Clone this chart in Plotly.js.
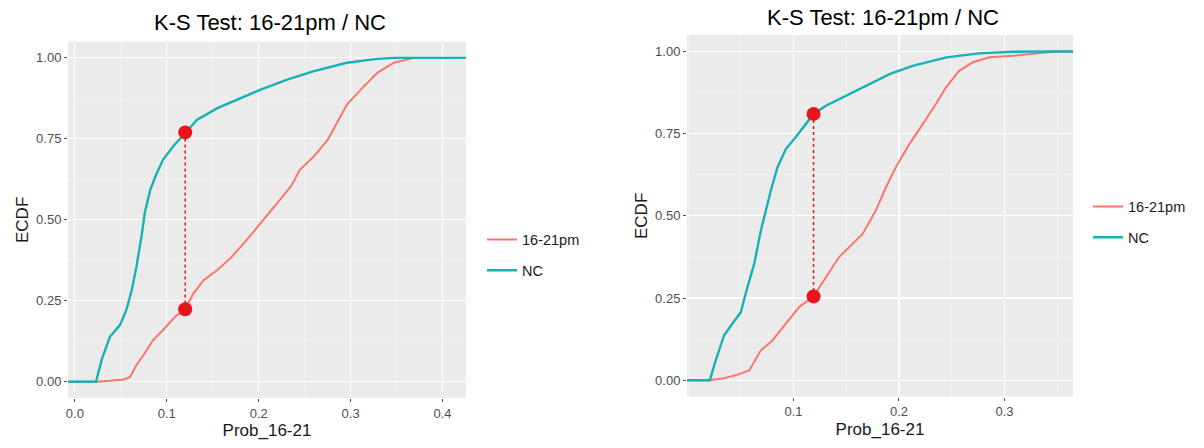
<!DOCTYPE html>
<html>
<head>
<meta charset="utf-8">
<script src="https://cdn.plot.ly/plotly-3.0.1.min.js"></script>
<style>html,body{margin:0;padding:0;background:#fff;}#chart{width:1204px;height:448px;}</style>
</head>
<body>
<div id="chart"></div>
<script>
// ---------- data ----------
const titleText = "K-S Test: 16-21pm / NC";
const xTitle = "Prob_16-21";
const yTitle = "ECDF";
const seriesNames = ["16-21pm", "NC"];

// Left panel
const leftXRange = [-0.0075, 0.4255];
const leftXTicks = [0.0, 0.1, 0.2, 0.3, 0.4];
const leftNC_x = [-0.0075, 0.023, 0.029, 0.038, 0.049, 0.056, 0.062, 0.067, 0.073, 0.076, 0.082, 0.089, 0.096, 0.107, 0.12, 0.133, 0.155, 0.176, 0.202, 0.231, 0.26, 0.296, 0.329, 0.347, 0.4255];
const leftNC_y = [0, 0, 0.067, 0.139, 0.175, 0.222, 0.284, 0.356, 0.459, 0.521, 0.593, 0.644, 0.686, 0.727, 0.768, 0.809, 0.845, 0.871, 0.902, 0.933, 0.959, 0.985, 0.997, 1, 1];
const leftPM_x = [-0.0075, 0.023, 0.038, 0.053, 0.06, 0.067, 0.0745, 0.085, 0.096, 0.109, 0.12, 0.129, 0.14, 0.155, 0.169, 0.187, 0.205, 0.22, 0.235, 0.245, 0.26, 0.275, 0.289, 0.296, 0.311, 0.329, 0.347, 0.369, 0.4255];
const leftPM_y = [0, 0, 0.003, 0.007, 0.015, 0.052, 0.082, 0.129, 0.16, 0.201, 0.224, 0.273, 0.314, 0.345, 0.381, 0.438, 0.5, 0.552, 0.603, 0.655, 0.696, 0.747, 0.82, 0.856, 0.902, 0.954, 0.985, 1, 1];
const leftKS_x = [0.12, 0.12];
const leftKS_y = [0.77, 0.224];

// Right panel
const rightXRange = [-0.001, 0.365];
const rightXTicks = [0.1, 0.2, 0.3];
const rightNC_x = [-0.001, 0.0206, 0.0263, 0.0342, 0.042, 0.05, 0.0563, 0.0627, 0.069, 0.0737, 0.0785, 0.0848, 0.0927, 0.102, 0.1117, 0.119, 0.1307, 0.15, 0.169, 0.191, 0.213, 0.245, 0.276, 0.308, 0.34, 0.365];
const rightNC_y = [0, 0, 0.061, 0.137, 0.172, 0.207, 0.283, 0.354, 0.455, 0.516, 0.577, 0.648, 0.703, 0.739, 0.779, 0.81, 0.835, 0.865, 0.896, 0.931, 0.956, 0.982, 0.994, 0.999, 1, 1];
const rightPM_x = [-0.001, 0.02, 0.0326, 0.045, 0.058, 0.064, 0.069, 0.080, 0.0927, 0.1054, 0.119, 0.1307, 0.143, 0.153, 0.1655, 0.178, 0.1877, 0.197, 0.21, 0.2225, 0.235, 0.2446, 0.257, 0.27, 0.2858, 0.308, 0.333, 0.349, 0.365];
const rightPM_y = [0, 0, 0.005, 0.015, 0.03, 0.061, 0.091, 0.121, 0.172, 0.223, 0.255, 0.314, 0.374, 0.405, 0.445, 0.516, 0.587, 0.648, 0.719, 0.779, 0.84, 0.891, 0.941, 0.967, 0.982, 0.987, 0.994, 1, 1];
const rightKS_x = [0.119, 0.119];
const rightKS_y = [0.81, 0.255];

const yTicks = [0, 0.25, 0.5, 0.75, 1];
const yRange = [-0.05, 1.05];

// ---------- styles ----------
const FONT = "Liberation Sans, Arial, sans-serif";
const colPM = "#F8766D";
const colNC = "#16B2B4";
const colKS = "#E8141B";

function curve(x, y, name, color, xa, ya, legend) {
  return {x: x, y: y, type: "scatter", mode: "lines", name: name, legendgroup: legend + name,
    line: {color: color, width: name === "NC" ? 2.4 : 2}, xaxis: xa, yaxis: ya, legend: legend, hoverinfo: "skip"};
}
function ks(x, y, xa, ya) {
  return [
    {x: x, y: y, type: "scatter", mode: "lines", line: {color: colKS, width: 1.5, dash: "dot"}, xaxis: xa, yaxis: ya, showlegend: false, hoverinfo: "skip"},
    {x: x, y: y, type: "scatter", mode: "markers", marker: {color: colKS, size: 14, line: {width: 0}}, xaxis: xa, yaxis: ya, showlegend: false, hoverinfo: "skip"}
  ];
}

const traces = [
  curve(leftPM_x, leftPM_y, seriesNames[0], colPM, "x", "y", "legend"),
  curve(leftNC_x, leftNC_y, seriesNames[1], colNC, "x", "y", "legend"),
  ...ks(leftKS_x, leftKS_y, "x", "y"),
  curve(rightPM_x, rightPM_y, seriesNames[0], colPM, "x2", "y2", "legend2"),
  curve(rightNC_x, rightNC_y, seriesNames[1], colNC, "x2", "y2", "legend2"),
  ...ks(rightKS_x, rightKS_y, "x2", "y2")
];

function minorOf(ticks, step, range) {
  const out = [];
  for (let v = Math.floor(range[0] / step) * step; v <= range[1] + 1e-9; v += step) {
    const r = Math.round(v * 1000) / 1000;
    if (!ticks.some(t => Math.abs(t - r) < 1e-6) && r >= range[0] && r <= range[1]) out.push(r);
  }
  return out;
}

function xAxis(domain, range, ticks, anchor, standoff) {
  return {domain: domain, range: range, anchor: anchor, tickmode: "array", tickvals: ticks,
    ticktext: ticks.map(v => v.toFixed(1)), showgrid: true, gridcolor: "#FFFFFF", gridwidth: 1.1,
    zeroline: false, showline: false, ticks: "outside", ticklen: 3, tickcolor: "#4D4D4D", tickwidth: 1,
    tickfont: {family: FONT, size: 13, color: "#4D4D4D"},
    minor: {tickmode: "array", tickvals: minorOf(ticks, 0.05, range), showgrid: true, gridcolor: "#F7F7F7", gridwidth: 0.6, ticks: ""},
    title: {text: xTitle, font: {family: FONT, size: 17, color: "#1a1a1a"}, standoff: standoff}, fixedrange: true};
}
function yAxis(domain, anchor, standoff) {
  return {domain: domain, range: yRange, anchor: anchor, tickmode: "array", tickvals: yTicks,
    ticktext: yTicks.map(v => v.toFixed(2)), showgrid: true, gridcolor: "#FFFFFF", gridwidth: 1.1,
    zeroline: false, showline: false, ticks: "outside", ticklen: 3, tickcolor: "#4D4D4D", tickwidth: 1,
    tickfont: {family: FONT, size: 13, color: "#4D4D4D"},
    minor: {tickmode: "array", tickvals: [0.125, 0.375, 0.625, 0.875], showgrid: true, gridcolor: "#F7F7F7", gridwidth: 0.6, ticks: ""},
    title: {text: yTitle, font: {family: FONT, size: 17, color: "#1a1a1a"}, standoff: standoff}, fixedrange: true};
}

const W = 1204, H = 448;
const leftDomX = [68 / W, 466 / W], leftDomY = [1 - 398 / H, 1 - 41.7 / H];
const rightDomX = [687 / W, 1073 / W], rightDomY = [1 - 396.7 / H, 1 - 35 / H];

const legendStyle = {xanchor: "left", yanchor: "middle", bgcolor: "rgba(255,255,255,0)",
  font: {family: FONT, size: 14.5, color: "#1a1a1a"}, itemwidth: 30, tracegroupgap: 9};

const layout = {
  width: W, height: H, margin: {l: 0, r: 0, t: 0, b: 0},
  paper_bgcolor: "#FFFFFF", plot_bgcolor: "#EBEBEB",
  font: {family: FONT},
  showlegend: true,
  xaxis: xAxis(leftDomX, leftXRange, leftXTicks, "y", 4),
  yaxis: yAxis(leftDomY, "x", 3),
  xaxis2: xAxis(rightDomX, rightXRange, rightXTicks, "y2", 4),
  yaxis2: yAxis(rightDomY, "x2", 3),
  legend: Object.assign({x: 482 / W, y: 1 - 255 / H}, legendStyle),
  legend2: Object.assign({x: 1088 / W, y: 1 - 222 / H}, legendStyle),
  annotations: [
    {text: titleText, xref: "paper", yref: "paper", x: (leftDomX[0] + leftDomX[1]) / 2 + 3 / W, y: 1 - 22.5 / H,
      xanchor: "center", yanchor: "middle", showarrow: false, font: {family: FONT, size: 22, color: "#000"}},
    {text: titleText, xref: "paper", yref: "paper", x: (rightDomX[0] + rightDomX[1]) / 2 + 3 / W, y: 1 - 17 / H,
      xanchor: "center", yanchor: "middle", showarrow: false, font: {family: FONT, size: 22, color: "#000"}}
  ]
};

Plotly.newPlot("chart", traces, layout, {staticPlot: true, displayModeBar: false});
</script>
</body>
</html>
